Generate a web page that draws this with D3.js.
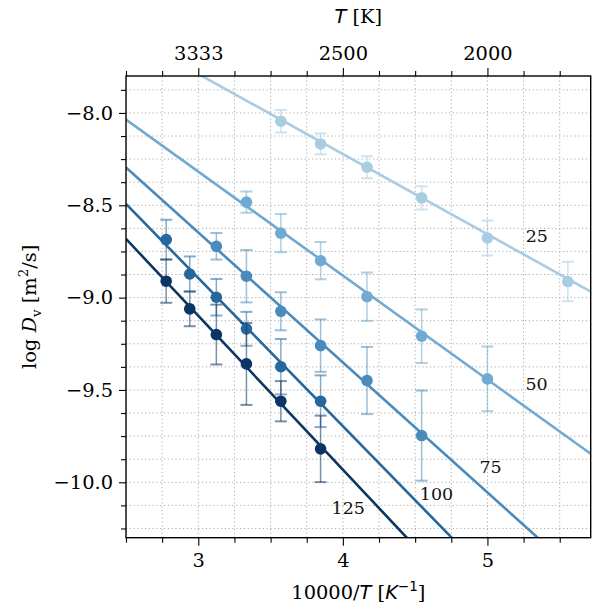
<!DOCTYPE html>
<html>
<head>
<meta charset="utf-8">
<script src="https://cdn.jsdelivr.net/npm/d3@7"></script>
<style>
  body { margin: 0; background: #fff; }
  svg { display: block; }
</style>
</head>
<body>
<div id="chart"></div>
<script>
// series labels (pressure) and colours
const seriesNames = ["25", "50", "75", "100", "125"];
const seriesColors = ["#a8cce2", "#70a9d2", "#4a8bbb", "#27679b", "#0b3562"];

// 10000/T of each point, per series
const xs25 = [3.571, 3.846, 4.167, 4.545, 5.0, 5.556];
const xs50 = [3.333, 3.571, 3.846, 4.167, 4.545, 5.0];
const xs75 = [3.125, 3.333, 3.571, 3.846, 4.167, 4.545];
const xs100 = [2.778, 2.941, 3.125, 3.333, 3.571, 3.846];
const xs125 = [2.778, 2.941, 3.125, 3.333, 3.571, 3.846];

// log D values
const ys25 = [-8.045, -8.168, -8.294, -8.460, -8.677, -8.913];
const ys50 = [-8.483, -8.651, -8.800, -8.995, -9.209, -9.440];
const ys75 = [-8.722, -8.884, -9.074, -9.260, -9.449, -9.747];
const ys100 = [-8.686, -8.872, -8.998, -9.169, -9.374, -9.561];
const ys125 = [-8.911, -9.061, -9.200, -9.359, -9.561, -9.819];

// error half-widths
const err25 = [0.061, 0.056, 0.060, 0.063, 0.095, 0.107];
const err50 = [0.058, 0.104, 0.101, 0.131, 0.145, 0.175];
const err75 = [0.072, 0.142, 0.103, 0.142, 0.182, 0.244];
const err100 = [0.107, 0.095, 0.099, 0.092, 0.150, 0.140];
const err125 = [0.117, 0.094, 0.162, 0.222, 0.109, 0.180];

// fitted lines: value at x = 2.5 and slope
const fitStart = [-7.572, -8.036, -8.295, -8.493, -8.682];
const fitSlope = [-0.434, -0.563, -0.704, -0.802, -0.833];

// where the series names sit
const labelX = [5.342, 5.340, 5.022, 4.648, 4.037];
const labelY = [-8.666, -9.467, -9.915, -10.063, -10.140];

const xMajor = [3, 4, 5];
const topLabels = ["3333", "2500", "2000"];
const yMajor = [-10.0, -9.5, -9.0, -8.5, -8.0];

const xsAll = [xs25, xs50, xs75, xs100, xs125];
const ysAll = [ys25, ys50, ys75, ys100, ys125];
const errAll = [err25, err50, err75, err100, err125];

const width = 602, height = 608;
const serif = "'DejaVu Serif', serif";
const sans = "'DejaVu Sans', sans-serif";

const svg = d3.select("#chart").append("svg")
  .attr("width", width).attr("height", height);

const x = d3.scaleLinear().domain([2.5, 10000 / 1750]).range([126, 590.7]);
const y = d3.scaleLinear().domain([-10.3, -7.8]).range([537.7, 76]);

const xMinor = d3.range(2.5, 5.71, 0.25).filter(v => !xMajor.includes(v));
const yMinor = d3.range(-10.25, -7.8, 0.125).filter(v => !yMajor.some(m => Math.abs(m - v) < 1e-9));

svg.append("clipPath").attr("id", "clip")
  .append("rect")
  .attr("x", x.range()[0]).attr("y", y.range()[1])
  .attr("width", x.range()[1] - x.range()[0])
  .attr("height", y.range()[0] - y.range()[1]);

// rejilla punteada
const grid = svg.append("g");
grid.selectAll("line.gx")
  .data(xMajor.concat(xMinor).filter(v => v > 2.5))
  .join("line")
  .attr("x1", d => x(d)).attr("x2", d => x(d))
  .attr("y1", y.range()[0]).attr("y2", y.range()[1]);
grid.selectAll("line.gy")
  .data(yMajor.concat(yMinor))
  .join("line")
  .attr("class", "gy")
  .attr("x1", x.range()[0]).attr("x2", x.range()[1])
  .attr("y1", d => y(d)).attr("y2", d => y(d));
grid.selectAll("line")
  .attr("stroke", "#aaaaaa")
  .attr("stroke-width", 1)
  .attr("stroke-dasharray", "1.2,2.6");

const plot = svg.append("g").attr("clip-path", "url(#clip)");

seriesNames.forEach((name, i) => {
  const col = seriesColors[i];
  const pts = xsAll[i].map((v, j) => ({ x: v, y: ysAll[i][j], e: errAll[i][j] }));
  const g = plot.append("g");

  // recta ajustada
  g.append("line")
    .attr("x1", x(2.5)).attr("y1", y(fitStart[i]))
    .attr("x2", x(10000 / 1750))
    .attr("y2", y(fitStart[i] + fitSlope[i] * (10000 / 1750 - 2.5)))
    .attr("stroke", col)
    .attr("stroke-width", 2.6);

  // barras de error
  const eb = g.append("g").attr("stroke", col).attr("stroke-opacity", 0.55);
  eb.selectAll("line.v").data(pts).join("line")
    .attr("class", "v")
    .attr("x1", d => x(d.x)).attr("x2", d => x(d.x))
    .attr("y1", d => y(d.y - d.e)).attr("y2", d => y(d.y + d.e))
    .attr("stroke-width", 1.5);
  ["lo", "hi"].forEach(k => {
    eb.selectAll("line." + k).data(pts).join("line")
      .attr("class", k)
      .attr("x1", d => x(d.x) - 6).attr("x2", d => x(d.x) + 6)
      .attr("y1", d => y(k === "lo" ? d.y - d.e : d.y + d.e))
      .attr("y2", d => y(k === "lo" ? d.y - d.e : d.y + d.e))
      .attr("stroke-width", 2);
  });

  g.selectAll("circle").data(pts).join("circle")
    .attr("cx", d => x(d.x)).attr("cy", d => y(d.y))
    .attr("r", 5.8)
    .attr("fill", col);

  svg.append("text")
    .attr("x", x(labelX[i])).attr("y", y(labelY[i]))
    .attr("text-anchor", "middle")
    .attr("dominant-baseline", "central")
    .attr("font-family", serif)
    .attr("font-size", 17.5)
    .attr("fill", "#111")
    .text(name);
});

// ejes
function styleAxis(g) {
  g.select(".domain").remove();
  g.selectAll(".tick line").attr("stroke", "#000").attr("stroke-width", 1.1);
  g.selectAll(".tick text")
    .attr("font-family", serif)
    .attr("font-size", 19.4)
    .attr("fill", "#000");
}

const x0 = y.range()[0], yTop = y.range()[1];

svg.append("g").attr("transform", `translate(0,${x0})`)
  .call(d3.axisBottom(x).tickValues(xMajor).tickFormat(d3.format("d")).tickSize(8).tickPadding(8))
  .call(styleAxis);
svg.append("g").attr("transform", `translate(0,${x0})`)
  .call(d3.axisBottom(x).tickValues(xMinor).tickFormat("").tickSize(5))
  .call(styleAxis);

svg.append("g").attr("transform", `translate(0,${yTop})`)
  .call(d3.axisTop(x).tickValues(xMajor).tickFormat((d, i) => topLabels[i]).tickSize(8).tickPadding(8))
  .call(styleAxis);
svg.append("g").attr("transform", `translate(0,${yTop})`)
  .call(d3.axisTop(x).tickValues(xMinor).tickFormat("").tickSize(5))
  .call(styleAxis);

svg.append("g").attr("transform", `translate(${x.range()[0]},0)`)
  .call(d3.axisLeft(y).tickValues(yMajor).tickFormat(d3.format(".1f")).tickSize(7).tickPadding(6))
  .call(styleAxis);
svg.append("g").attr("transform", `translate(${x.range()[0]},0)`)
  .call(d3.axisLeft(y).tickValues(yMinor).tickFormat("").tickSize(5))
  .call(styleAxis);

// marco
svg.append("rect")
  .attr("x", x.range()[0]).attr("y", yTop)
  .attr("width", x.range()[1] - x.range()[0])
  .attr("height", x0 - yTop)
  .attr("fill", "none")
  .attr("stroke", "#000")
  .attr("stroke-width", 1.4);

// títulos de ejes
const cx = (x.range()[0] + x.range()[1]) / 2;

const topTitle = svg.append("text")
  .attr("x", cx).attr("y", 23)
  .attr("text-anchor", "middle")
  .attr("font-family", serif).attr("font-size", 19.4);
topTitle.append("tspan").attr("font-family", sans).attr("font-style", "italic").text("T");
topTitle.append("tspan").text(" [K]");

const botTitle = svg.append("text")
  .attr("x", cx).attr("y", 599)
  .attr("text-anchor", "middle")
  .attr("font-family", serif).attr("font-size", 19.4);
botTitle.append("tspan").text("10000/");
botTitle.append("tspan").attr("font-family", sans).attr("font-style", "italic").text("T");
botTitle.append("tspan").text(" [");
botTitle.append("tspan").attr("font-family", sans).attr("font-style", "italic").text("K");
botTitle.append("tspan").attr("font-family", sans).attr("font-size", 13.5).attr("dy", -8).text("−1");
botTitle.append("tspan").attr("dy", 8).text("]");

const yTitle = svg.append("text")
  .attr("transform", `translate(36,${(yTop + x0) / 2}) rotate(-90)`)
  .attr("text-anchor", "middle")
  .attr("font-family", serif).attr("font-size", 19.4);
yTitle.append("tspan").text("log ");
yTitle.append("tspan").attr("font-style", "italic").text("D");
yTitle.append("tspan").attr("font-size", 13.5).attr("dy", 5).text("v");
yTitle.append("tspan").attr("dy", -5).text(" [m");
yTitle.append("tspan").attr("font-size", 13.5).attr("dy", -8).text("2");
yTitle.append("tspan").attr("dy", 8).text("/s]");
</script>
</body>
</html>
